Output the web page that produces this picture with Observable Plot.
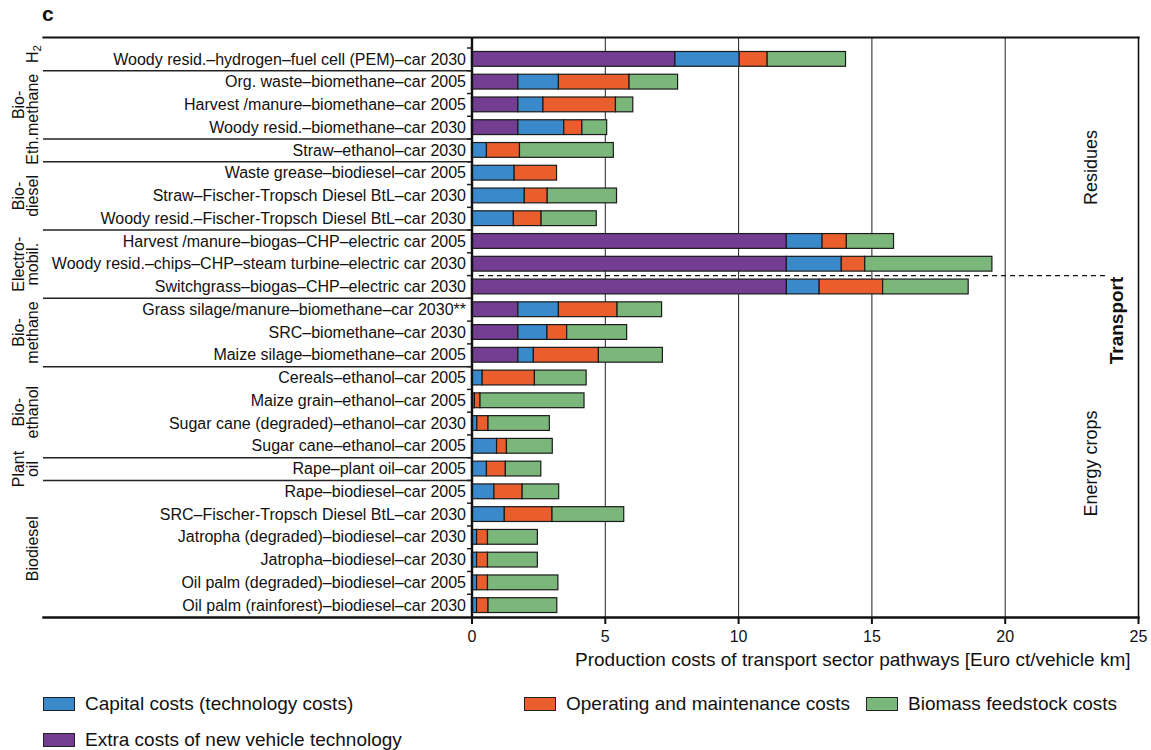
<!DOCTYPE html>
<html><head><meta charset="utf-8">
<script src="https://cdn.jsdelivr.net/npm/d3@7"></script>
<script src="https://cdn.jsdelivr.net/npm/@observablehq/plot@0.6"></script>
<style>
body{margin:0;background:#fff;font-family:"Liberation Sans",Arial,sans-serif;color:#111;}
#wrap{position:relative;width:1151px;height:750px;overflow:hidden;}
#chart{position:absolute;left:0;top:0;}
#panel{position:absolute;left:42px;top:2px;font-size:21px;font-weight:600;}
.leg{position:absolute;display:flex;align-items:center;font-size:19px;white-space:nowrap;}
.sw{width:32px;height:14px;border:1.3px solid #222;margin-right:10px;box-sizing:border-box;}
</style></head><body>
<div id="wrap"><div id="chart"></div><div id="panel">c</div><div id="legend"></div></div>
<script>
// ---- data ----
const pathways = [
  "Woody resid.–hydrogen–fuel cell (PEM)–car 2030",
  "Org. waste–biomethane–car 2005",
  "Harvest /manure–biomethane–car 2005",
  "Woody resid.–biomethane–car 2030",
  "Straw–ethanol–car 2030",
  "Waste grease–biodiesel–car 2005",
  "Straw–Fischer-Tropsch Diesel BtL–car 2030",
  "Woody resid.–Fischer-Tropsch Diesel BtL–car 2030",
  "Harvest /manure–biogas–CHP–electric car 2005",
  "Woody resid.–chips–CHP–steam turbine–electric car 2030",
  "Switchgrass–biogas–CHP–electric car 2030",
  "Grass silage/manure–biomethane–car 2030**",
  "SRC–biomethane–car 2030",
  "Maize silage–biomethane–car 2005",
  "Cereals–ethanol–car 2005",
  "Maize grain–ethanol–car 2005",
  "Sugar cane (degraded)–ethanol–car 2030",
  "Sugar cane–ethanol–car 2005",
  "Rape–plant oil–car 2005",
  "Rape–biodiesel–car 2005",
  "SRC–Fischer-Tropsch Diesel BtL–car 2030",
  "Jatropha (degraded)–biodiesel–car 2030",
  "Jatropha–biodiesel–car 2030",
  "Oil palm (degraded)–biodiesel–car 2005",
  "Oil palm (rainforest)–biodiesel–car 2030"
];
const extraVehicle = [7.63,1.74,1.74,1.74,0,0,0,0,11.81,11.81,11.81,1.74,1.74,1.74,0,0,0,0,0,0,0,0,0,0,0];
const capital      = [2.41,1.52,0.94,1.72,0.56,1.60,1.98,1.57,1.34,2.06,1.23,1.52,1.09,0.58,0.40,0.11,0.20,0.94,0.56,0.84,1.23,0.19,0.19,0.19,0.19];
const operating    = [1.05,2.65,2.72,0.68,1.24,1.59,0.86,1.04,0.91,0.88,2.38,2.20,0.74,2.44,1.96,0.21,0.42,0.37,0.71,1.06,1.79,0.41,0.41,0.41,0.43];
const feedstock    = [2.94,1.82,0.65,0.93,3.52,0,2.60,2.07,1.77,4.77,3.21,1.67,2.25,2.40,1.94,3.90,2.30,1.72,1.33,1.37,2.69,1.87,1.87,2.64,2.58];
const costTypes = ["Extra costs of new vehicle technology","Capital costs (technology costs)","Operating and maintenance costs","Biomass feedstock costs"];
const costColors = ["#733d91","#3a8acb","#ea5d2c","#7bb77b"];
const groupNames = ["H2","Bio-\nmethane","Eth.","Bio-\ndiesel","Electro-\nmobil.","Bio-\nmethane","Bio-\nethanol","Plant\noil","Biodiesel"];
const groupSizes = [1,3,1,3,3,3,4,1,6];
const sideLabels = ["Residues","Transport","Energy crops"];
const xTicks = [0,5,10,15,20,25];
const gridTicks = [5,10,15,20];
const axisTitle = "Production costs of transport sector pathways [Euro ct/vehicle km]";
const legendRows = [[1,2,3],[0]];

// ---- layout ----
const W = 1151, H = 680, MT = 37, MB = 63, ML = 43, MR = 13;
const X_RANGE = [471.5, W - MR];
const Y_RANGE = [47.5, 616.5];
const yOpts = {type:"band", domain:pathways, range:Y_RANGE, paddingInner:0.35, paddingOuter:0.175, round:false};
const xs = Plot.scale({x:{domain:[0,25], range:X_RANGE}});
const ys = Plot.scale({y:yOpts});
const step = ys.step, bw = ys.bandwidth;
const leftEdge = xs.invert(ML);
const smallTick = xs.invert(467);
const dashSpan = [xs.invert(479), xs.invert(1105)];
const center = p => ys.apply(p) + bw/2;

const series = [extraVehicle, capital, operating, feedstock];
const rows = [];
pathways.forEach((p,i)=>series.forEach((s,k)=>{ if (s[i] > 0) rows.push({pathway:p, type:costTypes[k], value:s[i]}); }));

const groupMarks = [], sepRows = [];
let start = 0;
groupNames.forEach((g,i)=>{
  const first = pathways[start], last = pathways[start + groupSizes[i] - 1];
  const c1 = center(first), c2 = center(last);
  const top = i === 0 ? MT : c1 - step/2;
  const bottom = c2 + step/2;
  const dy = (top + bottom)/2 - c1;
  groupMarks.push(Plot.text([g], {y: () => first, frameAnchor:"left", text: d => d, rotate:-90,
    textAnchor:"middle", lineAnchor:"bottom", lineHeight:0.85, dx:-5.5, dy, fontSize:16,
    className: i === 0 ? "h2label" : undefined}));
  if (i > 0) sepRows.push(first);
  start += groupSizes[i];
});

// side labels: anchored on a row, shifted to the label's centre
const sideSpec = [
  {row: pathways[5],  target: 167, dx: -47, size: 18, weight: "normal"},
  {row: pathways[12], target: 320, dx: -22, size: 19, weight: "bold"},
  {row: pathways[18], target: 463, dx: -47, size: 18, weight: "normal"}
];
const sideMarks = sideLabels.map((t,i) => Plot.text([t], {
  y: () => sideSpec[i].row, x: () => 25, text: d => d, rotate: -90, textAnchor: "middle",
  dx: sideSpec[i].dx, dy: sideSpec[i].target - center(sideSpec[i].row),
  fontSize: sideSpec[i].size, fontWeight: sideSpec[i].weight
}));

const plot = Plot.plot({
  width: W, height: H, marginTop: MT, marginBottom: MB, marginLeft: ML, marginRight: MR,
  style: {fontFamily:"'Liberation Sans', Arial, sans-serif", color:"#111", background:"#fff"},
  x: {domain:[0,25], range:X_RANGE, axis:null},
  y: {...yOpts, axis:null},
  color: {domain:costTypes, range:costColors},
  marks: [
    Plot.ruleX(gridTicks, {stroke:"#222", strokeWidth:1}),
    Plot.ruleY(sepRows, {y: d => d, x1: () => leftEdge, x2: () => 0, dy: -step/2, stroke:"#222", strokeWidth:1.5}),
    Plot.ruleY(pathways, {y: d => d, x1: () => smallTick, x2: () => 0, dy: -step/2, stroke:"#222", strokeWidth:1.5}),
    Plot.ruleY([pathways[10]], {y: d => d, x1: () => dashSpan[0], x2: () => dashSpan[1], dy: -step/2, stroke:"#111", strokeWidth:1.1, strokeDasharray:"5,4"}),
    Plot.barX(rows, {y:"pathway", x:"value", fill:"type", stroke:"#1b1b1b", strokeWidth:1.2}),
    Plot.ruleX([0], {stroke:"#111", strokeWidth:2.4}),
    Plot.frame({anchor:"top", stroke:"#111", strokeWidth:2.2}),
    Plot.frame({anchor:"bottom", stroke:"#111", strokeWidth:2.4}),
    Plot.frame({anchor:"right", stroke:"#111", strokeWidth:1.6}),
    Plot.axisX({ticks:xTicks, anchor:"bottom", tickSize:7, tickPadding:6, fontSize:16, strokeWidth:2, label:null}),
    Plot.text(pathways, {y: d => d, x: () => 0, text: d => d, textAnchor:"end", dx:-6, fontSize:16}),
    ...groupMarks,
    Plot.text([axisTitle], {frameAnchor:"bottom-right", textAnchor:"end", dx:-8, dy:48, fontSize:19}),
    ...sideMarks
  ]
});
// subscript for "H2"
d3.select(plot).selectAll(".h2label text").each(function() {
  const t = d3.select(this);
  const s = t.text();
  t.text(s.slice(0, 1));
  t.append("tspan").attr("font-size", "0.72em").attr("dy", "0.3em").text(s.slice(1));
});
document.getElementById("chart").appendChild(plot);

// ---- legend ----
const legendPos = [[43, 704],[524, 704],[866, 704],[43, 740]];
const legendOrder = legendRows.flat();
const legend = document.getElementById("legend");
legendOrder.forEach((k, j) => {
  const el = document.createElement("div");
  el.className = "leg";
  el.style.left = legendPos[j][0] + "px";
  el.style.top = (legendPos[j][1] - 11) + "px";
  const sw = document.createElement("span");
  sw.className = "sw";
  sw.style.background = costColors[k];
  const tx = document.createElement("span");
  tx.textContent = costTypes[k];
  el.appendChild(sw); el.appendChild(tx);
  legend.appendChild(el);
});
</script>
</body></html>
